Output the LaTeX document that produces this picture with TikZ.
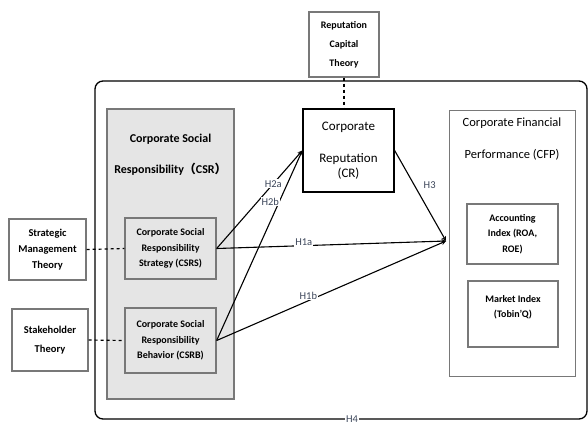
\documentclass[tikz,border=0pt]{standalone}
\usepackage{fontspec}
\setmainfont{Carlito}
\newfontfamily\cjk{Noto Sans CJK SC}
\usepackage{tikz}
\usetikzlibrary{arrows}
\definecolor{hcol}{RGB}{60,70,90}
\definecolor{framegray}{RGB}{120,120,120}
\tikzset{graybox/.style={
    draw=framegray, line width=1.3pt, align=center, inner sep=1pt,
  },
  theory/.style={
    graybox, font=\bfseries\fontsize{10.5}{16}\selectfont,
  },
  inner/.style={
    graybox, font=\bfseries\fontsize{10}{15.5}\selectfont,
  },
  hypo/.style={
    ->,>=stealth, line width=1.1pt,
  },
  hlabel/.style={
    fill=white, inner sep=1pt, text=hcol, font=\fontsize{10.5}{12}\selectfont,
  }
}

\begin{document}
\begin{tikzpicture}[x=1pt,y=-1pt]
  \useasboundingbox (0,0) rectangle (588,424);
  % -- The frame of the model.
  \draw[line width=1.3pt,rounded corners=8pt] (95,81) rectangle (587,419);
  \node[hlabel] (h4) at (352,419) {H4};

  % -- Independent side: the CSR block.
  \node[graybox,fill=black!10,minimum width=127pt,minimum height=290pt] (csr) at (170.5,254) {};
  \node[align=center,font=\bfseries\fontsize{12}{31}\selectfont] (csrtitle) at (170.5,155) {Corporate Social\\Responsibility{\cjk （}CSR{\cjk ）}};
  \node[inner,fill=black!10,minimum width=91pt,minimum height=61pt] (csrs) at (170.5,248.5) {Corporate Social\\Responsibility\\Strategy (CSRS)};
  \node[inner,fill=black!10,minimum width=91pt,minimum height=65pt] (csrb) at (170.5,340.5) {Corporate Social\\Responsibility\\Behavior (CSRB)};

  % -- The theories.
  \node[theory,minimum width=77pt,minimum height=61pt] (smt) at (47.5,249.5) {Strategic\\Management\\Theory};
  \node[theory,minimum width=76pt,minimum height=62pt,font=\bfseries\fontsize{10.5}{19}\selectfont] (sht) at (50,340) {Stakeholder\\Theory};
  \node[theory,minimum width=70pt,minimum height=65pt,font=\bfseries\fontsize{10}{19}\selectfont] (rct) at (344,44.5) {Reputation\\Capital\\Theory};

  % -- Mediator and dependent side.
  \node[draw,line width=1.3pt,align=center,minimum width=91pt,minimum height=83pt,font=\fontsize{13}{15}\selectfont] (cr) at (348.5,150.5) {Corporate\\[17pt]Reputation\\(CR)};
  \node[graybox,line width=1pt,minimum width=126pt,minimum height=266pt] (cfp) at (512,243) {};
  \node[align=center,font=\fontsize{12.5}{32}\selectfont] (cfptitle) at (512,139) {Corporate Financial\\Performance (CFP)};
  \node[inner,minimum width=91pt,minimum height=60pt] (acc) at (512.5,234) {Accounting\\Index (ROA,\\ROE)};
  \node[inner,minimum width=90pt,minimum height=66pt] (mkt) at (513,314) {Market Index\\(Tobin’Q)\\~};
  \coordinate (meet) at (446,241);

  % -- Theory links.
  \draw[dashed,line width=1.2pt] (smt.east) -- (csrs.west);
  \draw[dashed,line width=1.2pt] (sht.east) -- (csrb.west);
  \draw[dashed,line width=1.2pt] (rct.south) -- (rct.south |- cr.north);

  % -- Hypotheses.
  \draw[hypo] (csrs.east) -- node[hlabel,pos=0.66] {H2a} (cr.west);
  \draw[hypo] (csrb.east) -- node[hlabel,pos=0.73,xshift=-9pt] {H2b} (cr.west);
  \draw[hypo] (csrs.east) -- node[hlabel,pos=0.38,yshift=3pt] {H1a} (meet);
  \draw[hypo] (csrb.east) -- node[hlabel,pos=0.4,yshift=5pt] {H1b} (meet);
  \draw[hypo] (cr.east) -- node[hlabel,pos=0.38,right=8pt] {H3} (meet);
\end{tikzpicture}
\end{document}
